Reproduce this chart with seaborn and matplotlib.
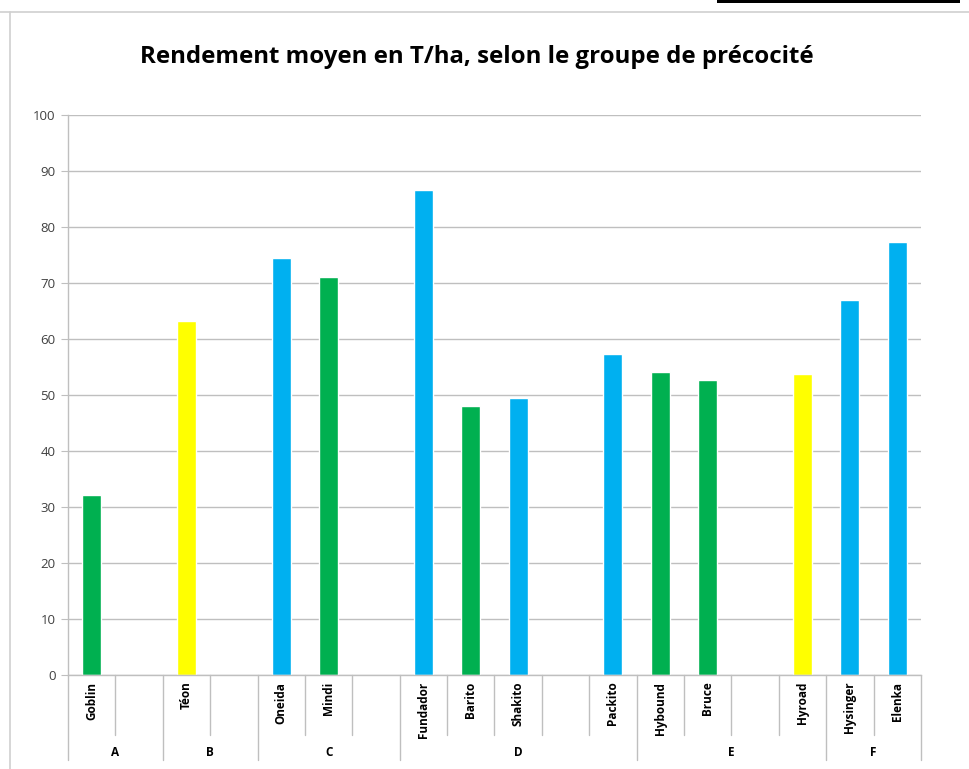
import numpy as np
import pandas as pd
import matplotlib
matplotlib.use('Agg')
import matplotlib.pyplot as plt
import seaborn as sns

# data: one slot per category position, blank slots have no bar
slot_labels = ['Goblin', '', 'Téon', '', 'Oneida', 'Mindi', '', 'Fundador', 'Barito',
               'Shakito', '', 'Packito', 'Hybound', 'Bruce', '', 'Hyroad', 'Hysinger', 'Elenka']
rendement = [32.2, np.nan, 63.3, np.nan, 74.5, 71.0, np.nan, 86.6, 48.1,
             49.4, np.nan, 57.4, 54.1, 52.6, np.nan, 53.7, 66.9, 77.3]
couleur = ['vert', '', 'jaune', '', 'bleu', 'vert', '', 'bleu', 'vert',
           'bleu', '', 'bleu', 'vert', 'vert', '', 'jaune', 'bleu', 'bleu']
groupes = ['A', 'B', 'C', 'D', 'E', 'F']
groupe_taille = [2, 2, 3, 5, 4, 2]

palette = {'vert': '#00B050', 'bleu': '#00B0F0', 'jaune': '#FFFF00'}

df = pd.DataFrame({'slot': np.arange(len(slot_labels)), 'label': slot_labels,
                   'rendement': rendement, 'couleur': couleur})
df = df[df['couleur'] != '']

sns.set_style('white')
plt.rcParams['font.family'] = ['Open Sans', 'DejaVu Sans']

fig = plt.figure(figsize=(9.7, 7.69), dpi=100)
ax = fig.add_axes([68 / 970, 94 / 769, 853 / 970, 560 / 769])

sns.barplot(data=df, x='slot', y='rendement', hue='couleur', palette=palette,
            native_scale=True, dodge=False, width=0.4, saturation=1, legend=False, ax=ax)

n = len(slot_labels)
ax.set_xlim(-0.5, n - 0.5)
ax.set_ylim(0, 100)
ax.set_yticks(range(0, 101, 10))
ax.yaxis.grid(True, color='#BFBFBF', linewidth=1)
ax.set_axisbelow(True)
ax.tick_params(axis='y', length=5, color='#BFBFBF', labelsize=9.5, labelcolor='#404040', pad=4, left=True)
ax.set_xticks([])
ax.set_xlabel('')
ax.set_ylabel('')
for s in ['top', 'right']:
    ax.spines[s].set_visible(False)
for s in ['left', 'bottom']:
    ax.spines[s].set_color('#BFBFBF')
    ax.spines[s].set_linewidth(1)

trans = ax.get_xaxis_transform()
# slot labels
for i, lab in enumerate(slot_labels):
    if lab:
        ax.text(i, -0.012, lab, transform=trans, rotation=90, ha='center', va='top',
                fontsize=8.5, fontweight='bold', color='#000000')

# separators: short between slots, long between groups
bounds = np.cumsum([0] + groupe_taille) - 0.5
for b in np.arange(-0.5, n, 1.0):
    y_end = -0.152 if np.any(np.isclose(bounds, b)) else -0.107
    ax.plot([b, b], [0, y_end], transform=trans, color='#BFBFBF', lw=1, clip_on=False)

# group labels
for g, lo, hi in zip(groupes, bounds[:-1], bounds[1:]):
    ax.text((lo + hi) / 2, -0.1375, g, transform=trans, ha='center', va='center',
            fontsize=8.5, fontweight='bold', color='#000000')

fig.text(477 / 970, 1 - 57 / 769, 'Rendement moyen en T/ha, selon le groupe de précocité',
         ha='center', va='center', fontsize=17.3, fontweight='bold', color='#000000')

# outer chart frame as in the screenshot
fig.add_artist(plt.Line2D([10 / 970, 10 / 970], [0, 1 - 12 / 769], color='#D0D0D0', lw=1.2))
fig.add_artist(plt.Line2D([0, 1], [1 - 12 / 769, 1 - 12 / 769], color='#D0D0D0', lw=1.2))
fig.add_artist(plt.Rectangle((717 / 970, 1 - 3 / 769), 243 / 970, 3 / 769, color='black', lw=0))

fig.savefig('out.png', dpi=100)
